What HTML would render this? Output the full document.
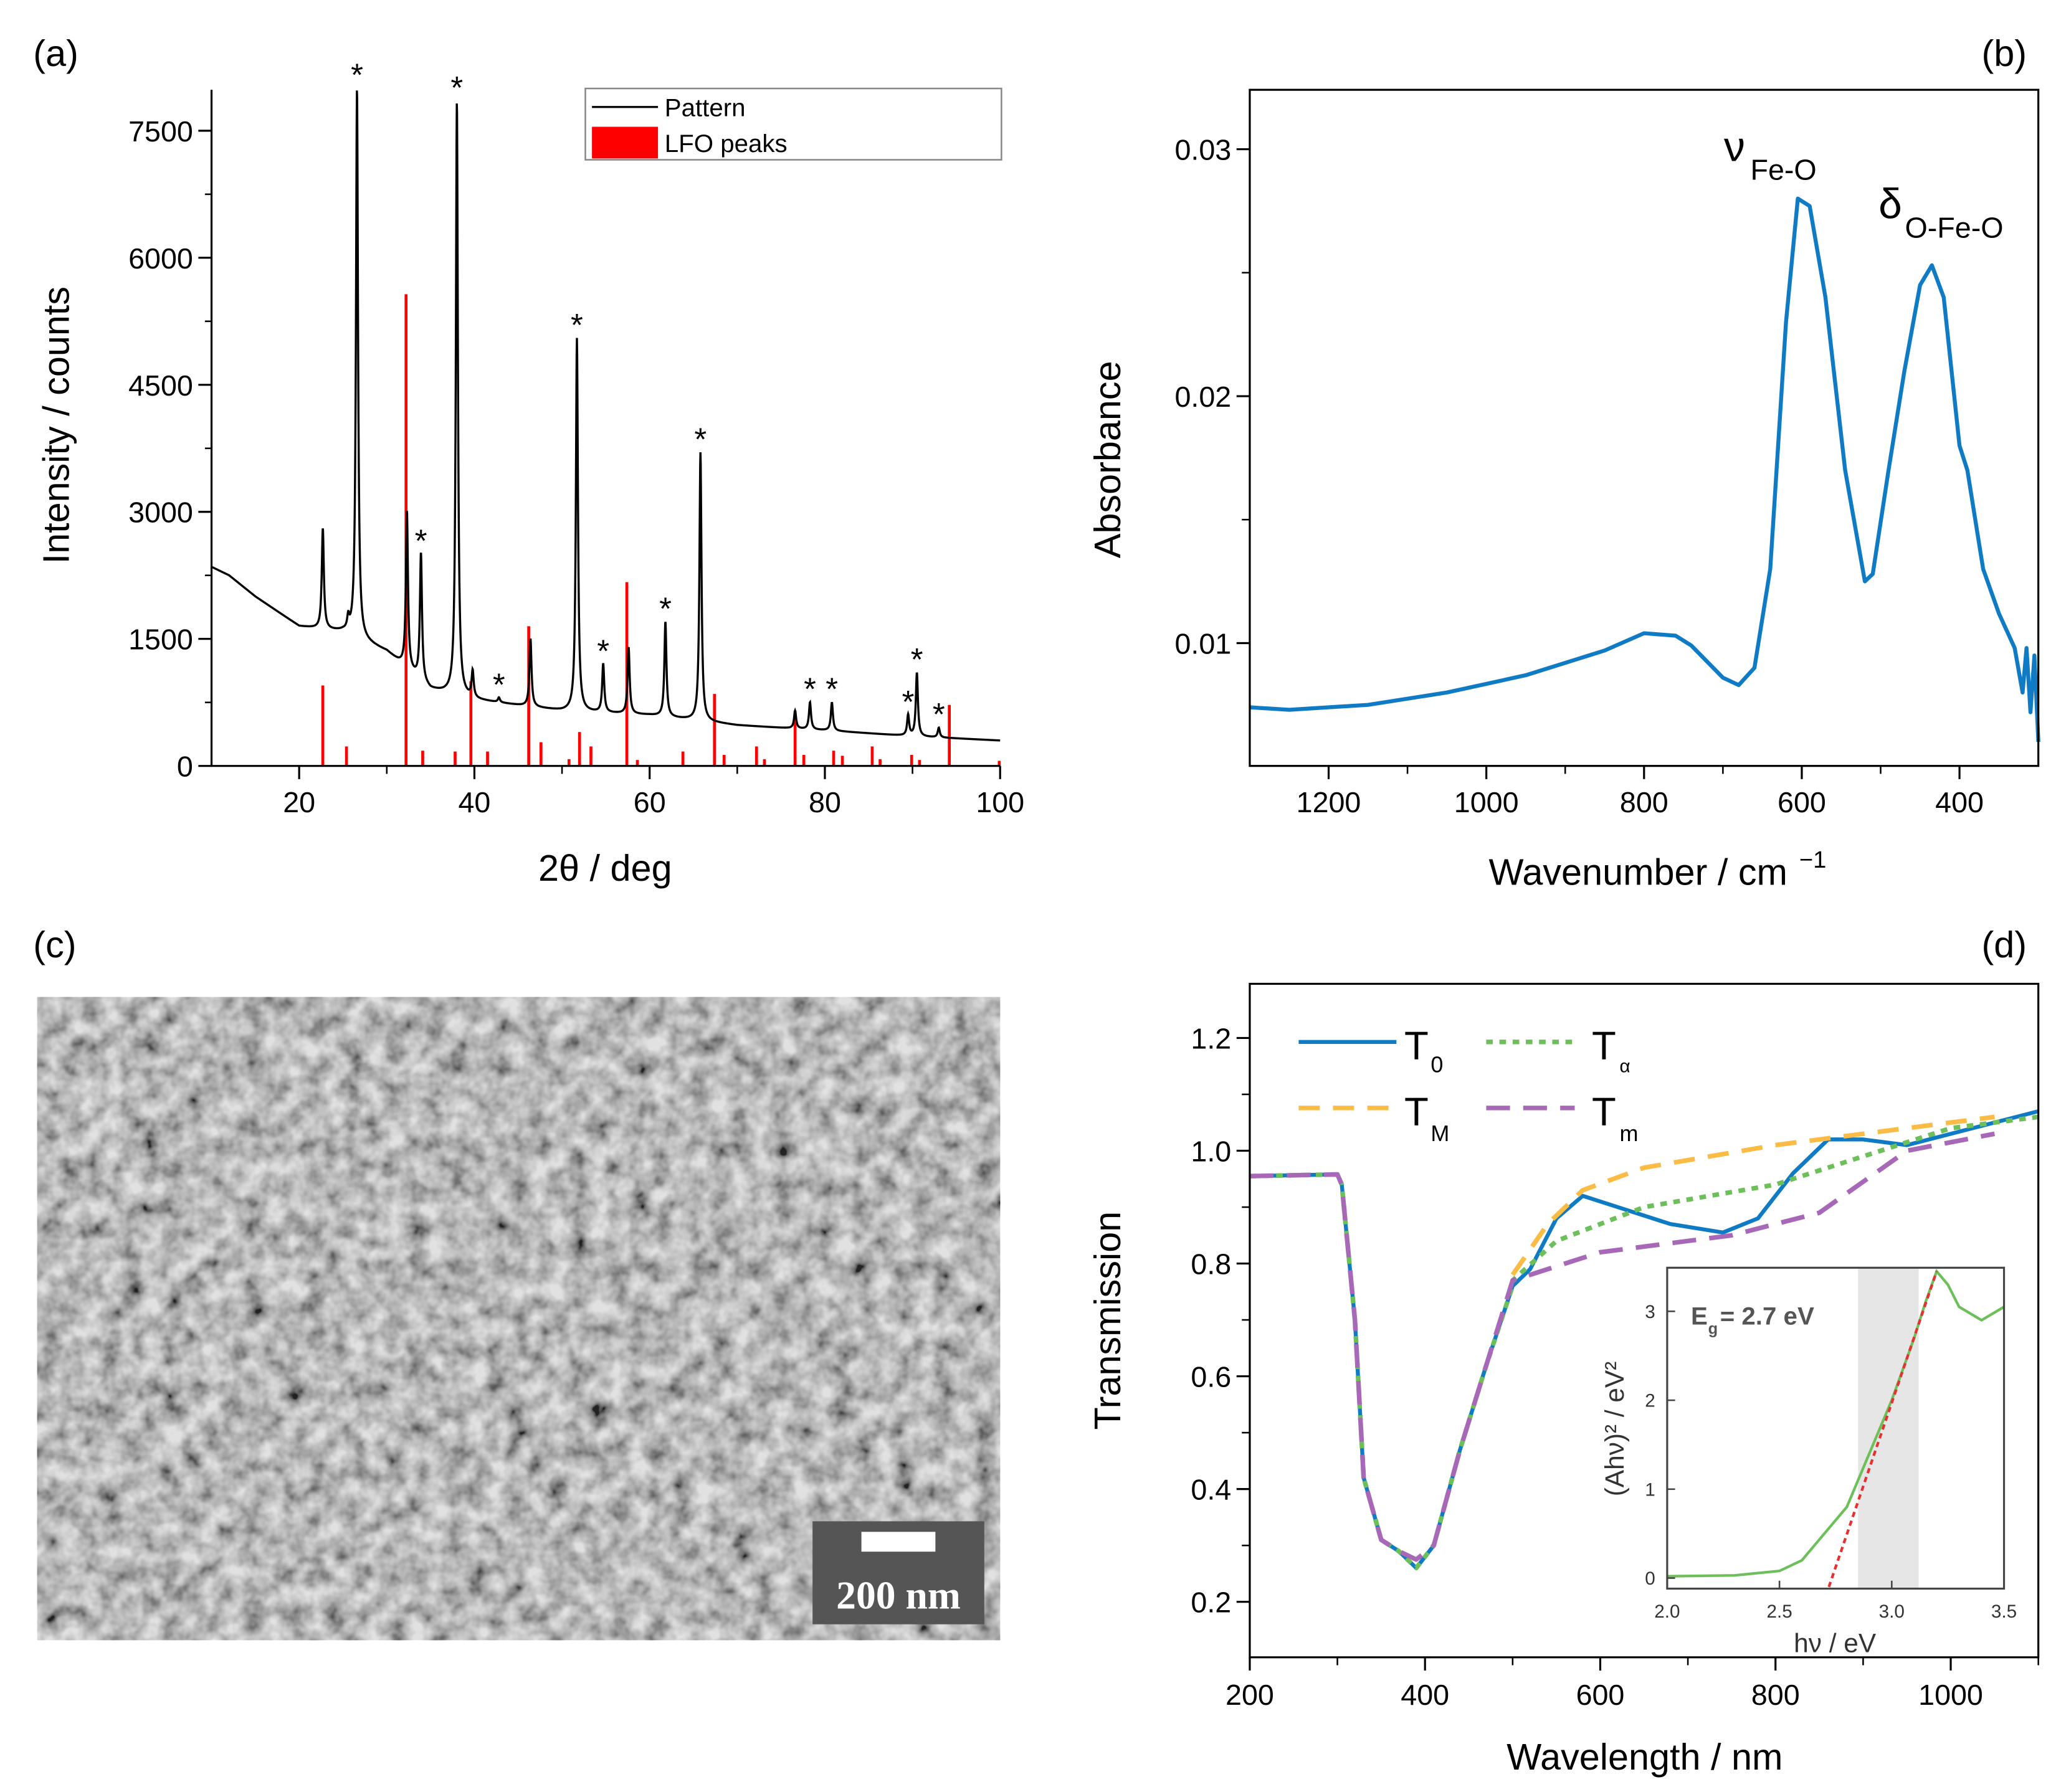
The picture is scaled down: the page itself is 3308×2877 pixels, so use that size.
<!DOCTYPE html>
<html><head><meta charset="utf-8"><style>
html,body{margin:0;padding:0;background:#fff}
svg{display:block}
text{font-family:"Liberation Sans",sans-serif}
</style></head><body>
<svg id="fig" width="3308" height="2877" viewBox="0 0 1560 1357" xmlns="http://www.w3.org/2000/svg">
<defs>
<filter id="sem" x="0" y="0" width="100%" height="100%">
<feTurbulence type="fractalNoise" baseFrequency="0.065" numOctaves="3" seed="11" result="n"/>
<feColorMatrix type="saturate" values="0"/>
<feComponentTransfer><feFuncR type="linear" slope="2.0" intercept="-0.42"/><feFuncG type="linear" slope="2.0" intercept="-0.42"/><feFuncB type="linear" slope="2.0" intercept="-0.42"/><feFuncA type="linear" slope="0" intercept="1"/></feComponentTransfer>
</filter>
</defs>
<g id="pa"></g>
<g id="pb"></g>
<g id="pc">
<rect x="28" y="755" width="729" height="487" fill="#8a8a8a"/>
<rect x="28" y="755" width="729" height="487" filter="url(#sem)" opacity="0.75"/>
<rect x="615" y="1152" width="130" height="78" fill="#555"/>
<rect x="652" y="1160" width="56" height="15" fill="#fff"/>
<text x="680" y="1218" text-anchor="middle" font-weight="bold" font-size="30" fill="#fff" style="font-family:'Liberation Serif',serif">200 nm</text>
<text x="25" y="725" font-size="28">(c)</text>
</g>
<g id="pd"></g>
</svg>
<script>
const NS='http://www.w3.org/2000/svg';
function el(p,t,a,txt){const e=document.createElementNS(NS,t);for(const k in a)e.setAttribute(k,a[k]);if(txt!==undefined)e.textContent=txt;p.appendChild(e);return e;}
function lin(d0,d1,r0,r1){return v=>r0+(v-d0)/(d1-d0)*(r1-r0);}
function path(pts,X,Y){return pts.map((p,i)=>(i?'L':'M')+X(p[0]).toFixed(2)+','+Y(p[1]).toFixed(2)).join('');}

// ---------- Panel (a) data ----------
const xrdBgX=[10,12,15,20,25,30,35,40,50,60,70,80,90,100];
const xrdBgY=[2350,2250,2000,1650,1580,1350,900,780,650,600,480,420,350,300];
const xrdPeakPos=[22.7,25.6,26.6,32.3,33.9,38.0,39.8,42.8,46.4,51.7,54.7,57.6,61.8,65.8,76.6,78.3,80.8,89.5,90.5,93.0];
const xrdPeakTop=[2800,1700,8000,3000,2500,7850,1100,800,1500,5050,1200,1400,1700,3700,650,750,750,600,1100,450];
const stickPos=[22.7,25.4,32.2,34.1,37.8,39.6,41.5,46.2,47.6,50.8,52.0,53.3,57.4,58.6,63.8,67.4,68.5,72.2,73.1,76.6,77.6,81.0,82.0,85.4,86.3,89.9,90.8,94.2,99.9];
const stickH=[950,230,5570,180,170,1000,170,1650,280,80,400,230,2170,70,170,850,130,230,80,650,130,180,120,230,80,130,70,720,60];
const starPos=[26.6,33.9,38.0,42.8,51.7,54.7,61.8,65.8,78.3,80.8,89.5,90.5,93.0];
const starTop=[8000,2500,7850,800,5050,1200,1700,3700,750,750,600,1100,450];
const aYTicks=[0,1500,3000,4500,6000,7500];
const aXTicks=[20,40,60,80,100];
(function(){
 const g=document.getElementById('pa');
 const X=lin(10,100,160,757),Y=lin(0,7500,580,99);
 function bg(x){for(let i=0;i<xrdBgX.length-1;i++){if(x<=xrdBgX[i+1]){const t=(x-xrdBgX[i])/(xrdBgX[i+1]-xrdBgX[i]);return xrdBgY[i]+t*(xrdBgY[i+1]-xrdBgY[i]);}}return xrdBgY[xrdBgY.length-1];}
 const pts=[];
 for(let x=10;x<=100.001;x+=0.03){let y=bg(x);xrdPeakPos.forEach((p,i)=>{const a=xrdPeakTop[i]-bg(p);const w=0.14;y+=a*w*w/((x-p)*(x-p)+w*w);});pts.push([x,y]);}
 stickPos.forEach((p,i)=>{const l=el(g,'line',{x1:X(p),x2:X(p),y1:Y(0),y2:Y(stickH[i]),stroke:'#f00','stroke-width':2.2});
 
 });
 const pl=el(g,'path',{d:path(pts,X,Y),fill:'none',stroke:'#000','stroke-width':1.6});
 
 
 starPos.forEach((p,i)=>{const t=el(g,'text',{x:X(p),y:Y(starTop[i])-2,'text-anchor':'middle','font-size':24},'*');
 
 });
 const ax=el(g,'path',{d:'M160,68V580H757',fill:'none',stroke:'#000','stroke-width':1.5});
 
 
 aYTicks.forEach(v=>{el(g,'line',{x1:160,x2:150,y1:Y(v),y2:Y(v),stroke:'#000','stroke-width':1.5});
 const t=el(g,'text',{x:146,y:Y(v)+8,'text-anchor':'end','font-size':22},String(v));
 
 });
 for(let v=750;v<7500;v+=1500)el(g,'line',{x1:160,x2:155,y1:Y(v),y2:Y(v),stroke:'#000','stroke-width':1.2});
 aXTicks.forEach(v=>{el(g,'line',{x1:X(v),x2:X(v),y1:580,y2:590,stroke:'#000','stroke-width':1.5});
 const t=el(g,'text',{x:X(v),y:615,'text-anchor':'middle','font-size':22},String(v));
 
 });
 for(let v=30;v<100;v+=20)el(g,'line',{x1:X(v),x2:X(v),y1:580,y2:586,stroke:'#000','stroke-width':1.2});
 let t=el(g,'text',{x:458,y:667,'text-anchor':'middle','font-size':28},'2θ / deg');
 
 t=el(g,'text',{transform:'translate(52,322) rotate(-90)','text-anchor':'middle','font-size':28},'Intensity / counts');
 
 t=el(g,'text',{x:25,y:50,'font-size':28},'(a)');
 
 const lg=el(g,'g',{});
 
 
 el(lg,'rect',{x:443,y:67,width:315,height:54,fill:'#fff',stroke:'#888','stroke-width':1.2});
 el(lg,'line',{x1:448,x2:498,y1:81,y2:81,stroke:'#000','stroke-width':1.5});
 el(lg,'text',{x:503,y:88,'font-size':19},'Pattern');
 el(lg,'rect',{x:448,y:96,width:50,height:24,fill:'#f00'});
 el(lg,'text',{x:503,y:115,'font-size':19},'LFO peaks');
})();

// ---------- Panel (b) data ----------
const ftirWn=[1300,1250,1150,1050,950,850,800,760,740,700,680,660,640,620,605,590,570,545,520,510,490,470,450,435,420,400,390,370,350,330,320,315,310,305,300];
const ftirAbs=[.0074,.0073,.0075,.0080,.0087,.0097,.0104,.0103,.0099,.0086,.0083,.0090,.0130,.0230,.0280,.0277,.0240,.0170,.0125,.0128,.0170,.0210,.0245,.0253,.0240,.0180,.0170,.0130,.0112,.0098,.0080,.0098,.0072,.0095,.0060];
const bXTicks=[1200,1000,800,600,400];
const bYTicks=[0.01,0.02,0.03];
(function(){
 const g=document.getElementById('pb');
 const X=lin(1300,300,946,1543),Y=lin(0.01,0.03,487,113);
 const pts=ftirWn.map((w,i)=>[w,ftirAbs[i]]);
 const pl=el(g,'path',{d:path(pts,X,Y),fill:'none',stroke:'#0f7bc4','stroke-width':3,'stroke-linejoin':'round'});
 
 
 const bx=el(g,'rect',{x:946,y:68,width:597,height:512,fill:'none',stroke:'#000','stroke-width':1.5});
 
 
 bYTicks.forEach(v=>{el(g,'line',{x1:946,x2:936,y1:Y(v),y2:Y(v),stroke:'#000','stroke-width':1.5});
 const t=el(g,'text',{x:932,y:Y(v)+8,'text-anchor':'end','font-size':22},v.toFixed(2));
 });
 [0.015,0.025].forEach(v=>el(g,'line',{x1:946,x2:940,y1:Y(v),y2:Y(v),stroke:'#000','stroke-width':1.2}));
 bXTicks.forEach(v=>{el(g,'line',{x1:X(v),x2:X(v),y1:580,y2:590,stroke:'#000','stroke-width':1.5});
 const t=el(g,'text',{x:X(v),y:615,'text-anchor':'middle','font-size':22},String(v));
 });
 [1100,900,700,500].forEach(v=>el(g,'line',{x1:X(v),x2:X(v),y1:580,y2:586,stroke:'#000','stroke-width':1.2}));
 let t=el(g,'text',{x:1240,y:670,'text-anchor':'middle','font-size':28},'Wavenumber / cm');
 
 el(g,'text',{x:1362,y:657,'font-size':18},'−1');
 t=el(g,'text',{transform:'translate(848,348) rotate(-90)','text-anchor':'middle','font-size':28},'Absorbance');
 
 t=el(g,'text',{x:1500,y:50,'font-size':28},'(b)');
 
 t=el(g,'text',{x:1305,y:122,'font-size':32},'ν');
 
 el(g,'text',{x:1325,y:136,'font-size':22},'Fe-O');
 t=el(g,'text',{x:1422,y:165,'font-size':32},'δ');
 
 el(g,'text',{x:1442,y:180,'font-size':22},'O-Fe-O');
})();

// ---------- Panel (d) data ----------
const dWl=[200,300,305,320,330,350,370,390,410,440,470,500,520,550,580,620,680,740,780,820,860,900,950,1000,1050,1100];
const dT0=[.955,.958,.94,.70,.42,.31,.29,.26,.30,.47,.62,.76,.79,.88,.92,.90,.87,.855,.88,.96,1.02,1.02,1.01,1.03,1.05,1.07];
const dTMwl=[500,540,580,650,800,900,1050];
const dTM=[.78,.87,.93,.97,1.01,1.03,1.06];
const dTawl=[500,550,650,800,900,1000,1100];
const dTa=[.77,.84,.90,.94,.99,1.04,1.06];
const dTmwl=[390,410,440,470,500,600,750,850,950,1050];
const dTm=[.275,.30,.47,.62,.77,.82,.85,.89,1.00,1.03];
const dXTicks=[200,400,600,800,1000];
const dYTicks=[0.2,0.4,0.6,0.8,1.0,1.2];
const insEv=[2.0,2.3,2.5,2.6,2.7,2.8,2.9,3.0,3.1,3.15,3.2,3.25,3.3,3.4,3.5];
const insY=[0.02,0.03,0.08,0.2,0.5,0.8,1.4,2.0,2.7,3.1,3.45,3.3,3.05,2.9,3.05];
const insFitEv=[2.72,3.2];
const insFitY=[-0.1,3.45];
const insShade=[2.85,3.12];
const insXTicks=[2.0,2.5,3.0,3.5];
const insYTicks=[0,1,2,3];
(function(){
 const g=document.getElementById('pd');
 const X=lin(200,1100,946,1543),Y=lin(0.2,1.2,1213,786);
 const t0=dWl.map((w,i)=>[w,dT0[i]]);
 const pre=t0.filter(p=>p[0]<=500);
 function line(pts,col,dash,w,name){const p=el(g,'path',{d:path(pts,X,Y),fill:'none',stroke:col,'stroke-width':w,'stroke-dasharray':dash,'stroke-linejoin':'round'});
  
  }
 line(t0,'#0f7bc4','none',3,'t0-line');
 line(pre.concat(dTawl.map((w,i)=>[w,dTa[i]])),'#6dbf5a','5 5',3.5,'t-alpha-line');
 line(dTMwl.map((w,i)=>[w,dTM[i]]),'#fbbc45','16 10',3.5,'t-max-line');
 line(pre.filter(p=>p[0]<390).concat(dTmwl.map((w,i)=>[w,dTm[i]])),'#a868b8','18 10',3.5,'t-min-line');
 const bx=el(g,'rect',{x:946,y:745,width:597,height:510,fill:'none',stroke:'#000','stroke-width':1.5});
 
 dYTicks.forEach(v=>{el(g,'line',{x1:946,x2:936,y1:Y(v),y2:Y(v),stroke:'#000','stroke-width':1.5});
 const t=el(g,'text',{x:932,y:Y(v)+8,'text-anchor':'end','font-size':22},v.toFixed(1));
 });
 [0.3,0.5,0.7,0.9,1.1].forEach(v=>el(g,'line',{x1:946,x2:940,y1:Y(v),y2:Y(v),stroke:'#000','stroke-width':1.2}));
 dXTicks.forEach(v=>{el(g,'line',{x1:X(v),x2:X(v),y1:1255,y2:1265,stroke:'#000','stroke-width':1.5});
 const t=el(g,'text',{x:X(v),y:1291,'text-anchor':'middle','font-size':22},String(v));
 });
 [300,500,700,900,1100].forEach(v=>el(g,'line',{x1:X(v),x2:X(v),y1:1255,y2:1261,stroke:'#000','stroke-width':1.2}));
 let t=el(g,'text',{x:1245,y:1340,'text-anchor':'middle','font-size':28},'Wavelength / nm');
 
 t=el(g,'text',{transform:'translate(848,1000) rotate(-90)','text-anchor':'middle','font-size':28},'Transmission');
 
 t=el(g,'text',{x:1500,y:725,'font-size':28},'(d)');
 
 const lg=el(g,'g',{});
 
 el(lg,'line',{x1:983,x2:1057,y1:789,y2:789,stroke:'#0f7bc4','stroke-width':3});
 el(lg,'text',{x:1063,y:802,'font-size':30},'T');el(lg,'text',{x:1083,y:812,'font-size':17},'0');
 el(lg,'line',{x1:1125,x2:1192,y1:789,y2:789,stroke:'#6dbf5a','stroke-width':3.5,'stroke-dasharray':'5 5'});
 el(lg,'text',{x:1205,y:802,'font-size':30},'T');el(lg,'text',{x:1226,y:812,'font-size':14},'α');
 el(lg,'line',{x1:983,x2:1057,y1:839,y2:839,stroke:'#fbbc45','stroke-width':3.5,'stroke-dasharray':'16 10'});
 el(lg,'text',{x:1063,y:852,'font-size':30},'T');el(lg,'text',{x:1083,y:864,'font-size':17},'M');
 el(lg,'line',{x1:1125,x2:1192,y1:839,y2:839,stroke:'#a868b8','stroke-width':3.5,'stroke-dasharray':'18 10'});
 el(lg,'text',{x:1205,y:852,'font-size':30},'T');el(lg,'text',{x:1226,y:864,'font-size':17},'m');
 // inset
 const ig=el(g,'g',{});
 
 const IX=lin(2.0,3.5,1262,1517),IY=lin(0,3,1195,993);
 el(ig,'rect',{x:1262,y:960,width:255,height:243,fill:'#fff'});
 const sh=el(ig,'rect',{x:IX(insShade[0]),y:960,width:IX(insShade[1])-IX(insShade[0]),height:243,fill:'#e6e6e6'});
 
 const gp=el(ig,'path',{d:path(insEv.map((e,i)=>[e,insY[i]]),IX,IY),fill:'none',stroke:'#6dbf5a','stroke-width':2});
 
 const fp=el(ig,'path',{d:path(insFitEv.map((e,i)=>[e,insFitY[i]]),IX,IY),fill:'none',stroke:'#e83030','stroke-width':2,'stroke-dasharray':'4 3'});
 
 el(ig,'rect',{x:1262,y:960,width:255,height:243,fill:'none',stroke:'#444','stroke-width':1.5});
 insXTicks.forEach(v=>{el(ig,'line',{x1:IX(v),x2:IX(v),y1:1203,y2:1197,stroke:'#444','stroke-width':1.2});
 const t=el(ig,'text',{x:IX(v),y:1225,'text-anchor':'middle','font-size':14,fill:'#333'},v.toFixed(1));
 });
 insYTicks.forEach(v=>{el(ig,'line',{x1:1262,x2:1268,y1:IY(v),y2:IY(v),stroke:'#444','stroke-width':1.2});
 const t=el(ig,'text',{x:1253,y:IY(v)+5,'text-anchor':'end','font-size':14,fill:'#333'},String(v));
 });
 t=el(ig,'text',{x:1389,y:1251,'text-anchor':'middle','font-size':20,fill:'#333'},'hν / eV');
 
 t=el(ig,'text',{transform:'translate(1229,1082) rotate(-90)','text-anchor':'middle','font-size':20,fill:'#333'},'(Ahν)² / eV²');
 
 t=el(ig,'text',{x:1280,y:1003,'font-size':19,'font-weight':'bold',fill:'#555'},'E');
 
 el(ig,'text',{x:1293,y:1010,'font-size':12,'font-weight':'bold',fill:'#555'},'g');
 el(ig,'text',{x:1302,y:1003,'font-size':19,'font-weight':'bold',fill:'#555'},'= 2.7 eV');
})();
</script>
</body></html>
